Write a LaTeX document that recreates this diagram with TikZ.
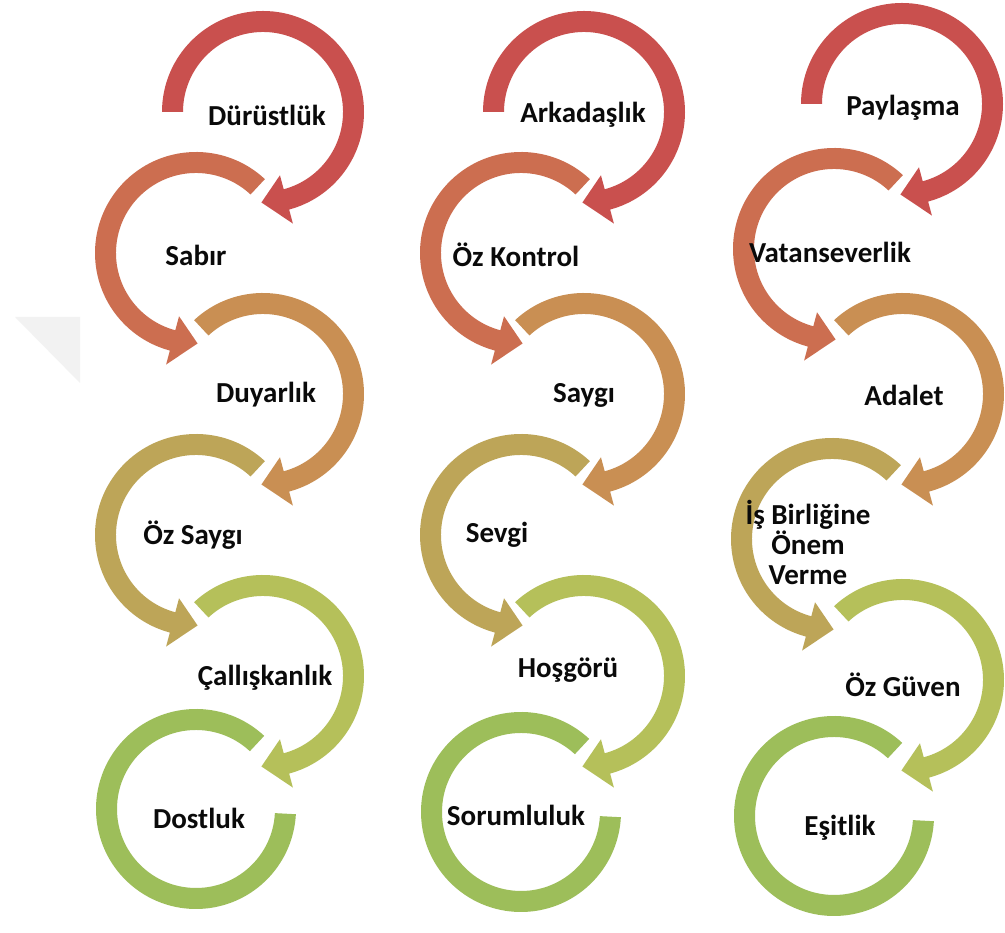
\documentclass[tikz,border=0pt]{standalone}
\usepackage{fontspec}
\setmainfont{Carlito}
\definecolor{cA}{RGB}{201,80,78}
\definecolor{cB}{RGB}{204,110,80}
\definecolor{cC}{RGB}{201,143,83}
\definecolor{cD}{RGB}{189,165,88}
\definecolor{cE}{RGB}{181,192,90}
\definecolor{cF}{RGB}{157,190,90}
\definecolor{txt}{RGB}{10,10,10}
\definecolor{ghost}{RGB}{242,242,242}
% right-type arc: centre x, centre y (image), colour, start angle
\newcommand\ArcRgt[4]{%
  \begin{scope}[shift={(#1,933-#2)}]
    \fill[#3] (#4:101) arc[start angle=#4,end angle=-75,radius=101]
      -- (-75:115.5) -- (-91:90.5) -- (-75:65.5) -- (-75:80)
      arc[start angle=-75,end angle=#4,radius=80] -- cycle;
  \end{scope}}
% left-type arc
\newcommand\ArcLft[3]{%
  \begin{scope}[shift={(#1,933-#2)}]
    \fill[#3] (47:101) arc[start angle=47,end angle=255,radius=101]
      -- (255:115.5) -- (271:90.5) -- (255:65.5) -- (255:80)
      arc[start angle=255,end angle=47,radius=80] -- cycle;
  \end{scope}}
% final ring
\newcommand\RingEnd[3]{%
  \begin{scope}[shift={(#1,933-#2)}]
    \fill[#3] (47:100) arc[start angle=47,end angle=357,radius=100]
      -- (357:79) arc[start angle=357,end angle=47,radius=79] -- cycle;
  \end{scope}}
\begin{document}
\begin{tikzpicture}[x=1pt,y=1pt,
  lbl/.style={text=txt,font=\fontsize{29}{30}\selectfont\bfseries,inner sep=0pt,align=center}]
\useasboundingbox (0,0) rectangle (1005,933);
\fill[white] (0,0) rectangle (1005,933);
% faint watermark triangle
\fill[ghost] (15,933-317) -- (80,933-317) -- (80,933-383) -- cycle;

% column 1
\ArcRgt{263}{112}{cA}{180}
\ArcLft{196}{253}{cB}
\ArcRgt{263}{394}{cC}{133}
\ArcLft{196}{535}{cD}
\ArcRgt{263}{676}{cE}{133}
\RingEnd{196}{809}{cF}
% column 2
\ArcRgt{584}{112}{cA}{180}
\ArcLft{521}{253}{cB}
\ArcRgt{584}{394}{cC}{133}
\ArcLft{521}{535}{cD}
\ArcRgt{584}{676}{cE}{133}
\RingEnd{521}{812}{cF}
% column 3
\ArcRgt{902}{104}{cA}{180}
\ArcLft{834}{249}{cB}
\ArcRgt{903}{394}{cC}{133}
\ArcLft{832}{539}{cD}
\ArcRgt{903}{680}{cE}{133}
\RingEnd{834}{816}{cF}

% labels column 1
\node[lbl] (t11) at (267,933-115) {Dürüstlük};
\node[lbl] (t12) at (196,933-255) {Sabır};
\node[lbl] (t13) at (266,933-395) {Duyarlık};
\node[lbl] (t14) at (193,933-535) {Öz Saygı};
\node[lbl] (t15) at (265,933-678) {Çallışkanlık};
\node[lbl] (t16) at (199,933-818) {Dostluk};
% labels column 2
\node[lbl] (t21) at (583,933-115) {Arkadaşlık};
\node[lbl] (t22) at (516,933-255) {Öz Kontrol};
\node[lbl] (t23) at (584,933-395) {Saygı};
\node[lbl] (t24) at (497,933-535) {Sevgi};
\node[lbl] (t25) at (568,933-670) {Hoşgörü};
\node[lbl] (t26) at (516,933-815) {Sorumluluk};
% labels column 3
\node[lbl] (t31) at (903,933-108) {Paylaşma};
\node[lbl] (t32) at (830,933-252) {Vatanseverlik};
\node[lbl] (t33) at (904,933-395) {Adalet};
\node[lbl] (t34) at (808,933-542) {İş Birliğine\\Önem\\Verme};
\node[lbl] (t35) at (903,933-685) {Öz Güven};
\node[lbl] (t36) at (840,933-828) {Eşitlik};
\end{tikzpicture}
\end{document}
